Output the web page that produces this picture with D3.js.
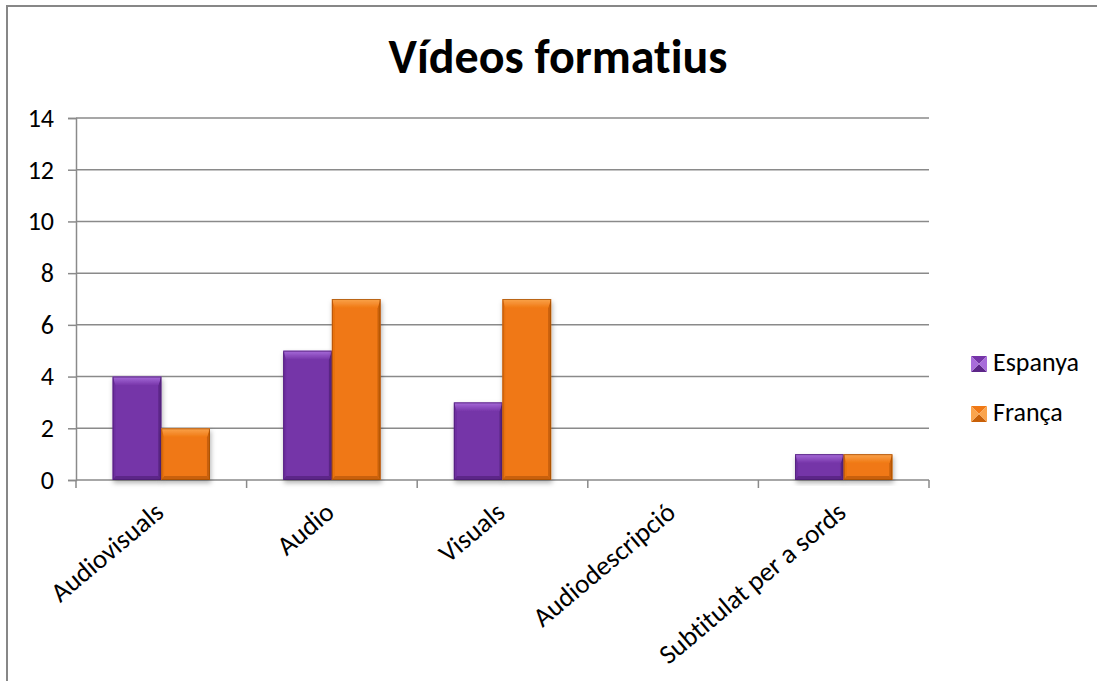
<!DOCTYPE html>
<html>
<head>
<meta charset="utf-8">
<script src="https://cdn.jsdelivr.net/npm/d3@7"></script>
<style>
  html, body { margin: 0; padding: 0; background: #fff; }
  svg { display: block; font-family: Carlito, Lato, "Open Sans", sans-serif; font-variant-ligatures: none; }
</style>
</head>
<body>
<svg id="chart" width="1097" height="681"></svg>
<script>
// Chart data
const categories = ["Audiovisuals", "Audio", "Visuals", "Audiodescripció", "Subtitulat per a sords"];
const seriesNames = ["Espanya", "França"];
const espanya = [4, 5, 3, 0, 1];
const franca  = [2, 7, 7, 0, 1];
const yTicks = [0, 2, 4, 6, 8, 10, 12, 14];
const title = "Vídeos formatius";

const seriesValues = [espanya, franca];
const palette = [
  { base: "#7534A8", light: "#A86CDA", side: "#6E2FA0", dark: "#5C2688", edge: "#4A1C70" },
  { base: "#F07814", light: "#FAA44C", side: "#E87210", dark: "#C86008", edge: "#A04C06" }
];

const svg = d3.select("#chart");
const W = 1097, H = 681;
const plot = { left: 76, right: 929, top: 118, bottom: 480 };

// outer chart frame
svg.append("rect")
  .attr("x", 7).attr("y", 6).attr("width", W + 10).attr("height", H + 10)
  .attr("fill", "#fff").attr("stroke", "#878787").attr("stroke-width", 2);

const defs = svg.append("defs");
// drop shadow for the bars
const f = defs.append("filter").attr("id", "shadow")
  .attr("x", "-20%").attr("y", "-20%").attr("width", "140%").attr("height", "140%");
f.append("feDropShadow").attr("dx", 1).attr("dy", 3).attr("stdDeviation", 2.5)
  .attr("flood-color", "#000").attr("flood-opacity", 0.3);
// soft top highlight per series
palette.forEach((col, j) => {
  const g = defs.append("linearGradient").attr("id", "top" + j)
    .attr("x1", 0).attr("y1", 0).attr("x2", 0).attr("y2", 1);
  g.append("stop").attr("offset", "0%").attr("stop-color", col.light);
  g.append("stop").attr("offset", "100%").attr("stop-color", col.base);
});

// title
svg.append("text")
  .attr("x", 558).attr("y", 73)
  .attr("text-anchor", "middle")
  .attr("font-size", 48).attr("font-weight", "bold").attr("fill", "#000")
  .text(title);

// scales
const y = d3.scaleLinear().domain([0, 14]).range([plot.bottom, plot.top]);
const x0 = d3.scaleBand().domain(categories).range([plot.left, plot.right])
  .paddingInner(0.43).paddingOuter(0.215);
const x1 = d3.scaleBand().domain(seriesNames).range([0, x0.bandwidth()]).padding(0);

// horizontal gridlines
svg.append("g").selectAll("line").data(yTicks.filter(d => d > 0)).join("line")
  .attr("x1", plot.left).attr("x2", plot.right)
  .attr("y1", d => y(d)).attr("y2", d => y(d))
  .attr("stroke", "#8a8a8a").attr("stroke-width", 1.5);

// y axis
const yAxis = d3.axisLeft(y).tickValues(yTicks).tickSize(8).tickPadding(14);
const gy = svg.append("g").attr("transform", `translate(${plot.left},0)`).call(yAxis);
gy.select(".domain").attr("stroke", "#8a8a8a").attr("stroke-width", 1.5);
gy.selectAll(".tick line").attr("stroke", "#8a8a8a").attr("stroke-width", 1.5);
gy.selectAll(".tick text").attr("font-size", 26).attr("fill", "#000")
  .attr("font-family", "Carlito, Lato, sans-serif");

// x axis baseline and category separators
const step = x0.step();
const bounds = categories.map(c => x0(c) - step * x0.paddingInner() / 2).concat([plot.right]);
svg.append("line")
  .attr("x1", plot.left).attr("x2", plot.right)
  .attr("y1", plot.bottom).attr("y2", plot.bottom)
  .attr("stroke", "#8a8a8a").attr("stroke-width", 1.5);
svg.append("g").selectAll("line").data(bounds).join("line")
  .attr("x1", d => d).attr("x2", d => d)
  .attr("y1", plot.bottom).attr("y2", plot.bottom + 8)
  .attr("stroke", "#8a8a8a").attr("stroke-width", 1.5);

// category labels, rotated
svg.append("g").selectAll("text").data(categories).join("text")
  .attr("text-anchor", "end")
  .attr("font-size", 27).attr("fill", "#000")
  .attr("transform", d => `translate(${x0(d) + x0.bandwidth() / 2 + 4},${plot.bottom + 35}) rotate(-40)`)
  .text(d => d);

// bevelled bar
function bevelBar(g, bx, by, bw, bh, col, j) {
  if (bh <= 0) return;
  const bt = Math.min(9, bh / 2), bs = Math.min(3, bw / 4), bb = Math.min(4, bh / 4);
  const grp = g.append("g").attr("filter", "url(#shadow)");
  grp.append("rect").attr("x", bx).attr("y", by).attr("width", bw).attr("height", bh).attr("fill", col.base);
  const poly = (pts, fill) => grp.append("polygon").attr("points", pts.map(p => p.join(",")).join(" ")).attr("fill", fill);
  poly([[bx, by], [bx + bs, by + bt], [bx + bs, by + bh - bb], [bx, by + bh]], col.side);
  poly([[bx + bw, by], [bx + bw, by + bh], [bx + bw - bs, by + bh - bb], [bx + bw - bs, by + bt]], col.dark);
  poly([[bx, by + bh], [bx + bs, by + bh - bb], [bx + bw - bs, by + bh - bb], [bx + bw, by + bh]], col.dark);
  poly([[bx, by], [bx + bw, by], [bx + bw - bs, by + bt], [bx + bs, by + bt]], `url(#top${j})`);
  grp.append("rect").attr("x", bx + 0.5).attr("y", by + 0.5).attr("width", bw - 1).attr("height", bh - 1)
    .attr("fill", "none").attr("stroke", col.edge).attr("stroke-width", 1).attr("stroke-opacity", 0.7);
}

const barsG = svg.append("g");
categories.forEach((c, i) => {
  seriesNames.forEach((s, j) => {
    const v = seriesValues[j][i];
    bevelBar(barsG, x0(c) + x1(s), y(v), x1.bandwidth(), y(0) - y(v), palette[j], j);
  });
});

// legend
const legend = svg.append("g");
seriesNames.forEach((s, j) => {
  const ly = 356 + j * 50;
  const lx = 971, sz = 16, col = palette[j];
  const poly = (pts, fill) => legend.append("polygon").attr("points", pts.map(p => p.join(",")).join(" ")).attr("fill", fill);
  const cx = lx + sz / 2, cy = ly + sz / 2;
  poly([[lx, ly], [lx + sz, ly], [cx, cy]], col.base);
  poly([[lx, ly + sz], [lx + sz, ly + sz], [cx, cy]], col.dark);
  poly([[lx, ly], [lx, ly + sz], [cx, cy]], col.light);
  poly([[lx + sz, ly], [lx + sz, ly + sz], [cx, cy]], col.light);
  legend.append("text")
    .attr("x", 993).attr("y", ly + 15)
    .attr("font-size", 26).attr("fill", "#000")
    .text(s);
});
</script>
</body>
</html>
